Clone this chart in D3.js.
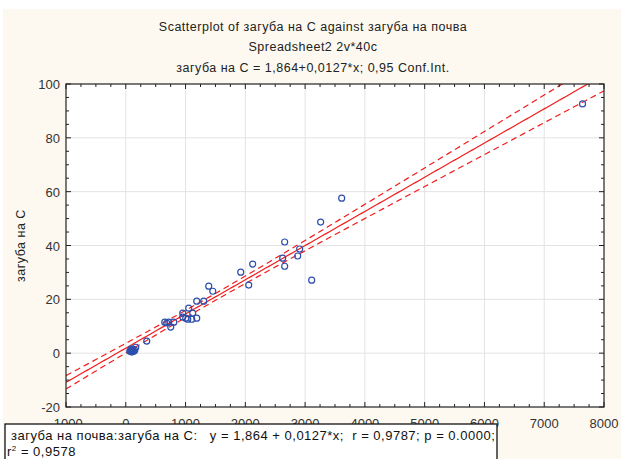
<!DOCTYPE html>
<html>
<head>
<meta charset="utf-8">
<script src="https://cdn.jsdelivr.net/npm/d3@7"></script>
<style>
  body { margin: 0; background: #fff; }
  svg { display: block; font-family: "Liberation Sans", Arial, sans-serif; }
  .tick-label { font-size: 13px; fill: #333; }
  .title { font-size: 12.5px; fill: #222; letter-spacing: 0.5px; }
  .note { font-size: 13px; fill: #111; white-space: pre; letter-spacing: 0.5px; }
</style>
</head>
<body>
<div id="chart"></div>
<script>
// загуба на почва (x) vs загуба на С (y), 40 cases
const lossSoil = [
  67, 84, 84, 100, 100, 117, 117, 134, 150, 167, 351,
  652, 686, 719, 752, 803,
  953, 953, 1003, 1037, 1053, 1104, 1120, 1187, 1187, 1304, 1388, 1455,
  1923, 2057, 2123, 2625, 2658, 2658, 2876, 2909, 3110, 3260, 3612, 7641
];
const lossC = [
  0.7, 0.7, 1.5, 1.1, 0.4, 1.5, 0.7, 0.7, 1.1, 2.2, 4.5,
  11.5, 11.2, 11.5, 9.7, 11.5,
  14.9, 13.4, 13.0, 12.6, 16.7, 12.6, 14.9, 13.0, 19.3, 19.3, 24.9, 23.0,
  30.1, 25.3, 33.1, 35.3, 41.3, 32.3, 36.1, 38.7, 27.1, 48.7, 57.6, 92.6
];

// fitted model as printed by the chart
const intercept = 1.864;
const slope = 0.0127;
const tCrit = 2.024; // t(0.975, 38)

const xTicks = [-1000, 0, 1000, 2000, 3000, 4000, 5000, 6000, 7000, 8000];
const yTicks = [-20, 0, 20, 40, 60, 80, 100];

const titleLines = [
  'Scatterplot of загуба на С against загуба на почва',
  'Spreadsheet2 2v*40c',
  'загуба на С = 1,864+0,0127*x; 0,95 Conf.Int.'
];
const yLabel = 'загуба на С';
const noteLine1 = 'загуба на почва:загуба на С:   y = 1,864 + 0,0127*x;  r = 0,9787; p = 0.0000;';
const noteLine2 = '= 0,9578';

const W = 621, H = 459;
const plot = { left: 66, top: 84, right: 604, bottom: 407 };

const svg = d3.select('#chart').append('svg').attr('width', W).attr('height', H);

// cream panel behind everything
svg.append('rect').attr('x', 3).attr('y', 9).attr('width', W - 3).attr('height', H - 9).attr('fill', '#fdf9f0');

const x = d3.scaleLinear().domain([-1000, 8000]).range([plot.left, plot.right]);
const y = d3.scaleLinear().domain([-20, 100]).range([plot.bottom, plot.top]);

svg.append('rect')
  .attr('x', plot.left).attr('y', plot.top)
  .attr('width', plot.right - plot.left).attr('height', plot.bottom - plot.top)
  .attr('fill', '#fff');

// grid at major ticks
svg.append('g').selectAll('line').data(xTicks.slice(1, -1)).join('line')
  .attr('x1', (d) => x(d)).attr('x2', (d) => x(d))
  .attr('y1', plot.top).attr('y2', plot.bottom)
  .attr('stroke', '#e3e3e3').attr('stroke-width', 1);
svg.append('g').selectAll('line').data(yTicks.slice(1, -1)).join('line')
  .attr('y1', (d) => y(d)).attr('y2', (d) => y(d))
  .attr('x1', plot.left).attr('x2', plot.right)
  .attr('stroke', '#e3e3e3').attr('stroke-width', 1);

// regression line and 95% band, band width from the residuals of the points
const n = lossSoil.length;
const xbar = d3.mean(lossSoil);
const sxx = d3.sum(lossSoil, (v) => (v - xbar) ** 2);
const sse = d3.sum(lossSoil, (v, i) => (lossC[i] - (intercept + slope * v)) ** 2);
const s = Math.sqrt(sse / (n - 2));
const fit = (v) => intercept + slope * v;
const half = (v) => tCrit * s * Math.sqrt(1 / n + (v - xbar) ** 2 / sxx);

const grid = d3.range(-1000, 8001, 50);

svg.append('clipPath').attr('id', 'clip').append('rect')
  .attr('x', plot.left).attr('y', plot.top)
  .attr('width', plot.right - plot.left).attr('height', plot.bottom - plot.top);

const lines = svg.append('g').attr('clip-path', 'url(#clip)');
const lineGen = (f) => d3.line().x((d) => x(d)).y((d) => y(f(d)))(grid);

lines.append('path').attr('d', lineGen(fit))
  .attr('fill', 'none').attr('stroke', '#f21c1c').attr('stroke-width', 1.2);
[(v) => fit(v) + half(v), (v) => fit(v) - half(v)].forEach((f) => {
  lines.append('path').attr('d', lineGen(f))
    .attr('fill', 'none').attr('stroke', '#f21c1c').attr('stroke-width', 1.2)
    .attr('stroke-dasharray', '6,4');
});

// points
svg.append('g').selectAll('circle').data(lossSoil).join('circle')
  .attr('cx', (d) => x(d)).attr('cy', (d, i) => y(lossC[i]))
  .attr('r', 3).attr('fill', 'none')
  .attr('stroke', '#2d4eac').attr('stroke-width', 1.2);

// frame with inward major and minor ticks on all four sides
const frame = svg.append('g').attr('stroke', '#222');
frame.append('rect')
  .attr('x', plot.left).attr('y', plot.top)
  .attr('width', plot.right - plot.left).attr('height', plot.bottom - plot.top)
  .attr('fill', 'none').attr('stroke-width', 1.2);

const xMinor = d3.range(-1000, 8001, 250);
const yMinor = d3.range(-20, 101, 5);
xMinor.forEach((v) => {
  const len = v % 1000 === 0 ? 5 : 3;
  frame.append('line').attr('x1', x(v)).attr('x2', x(v)).attr('y1', plot.bottom).attr('y2', plot.bottom - len);
  frame.append('line').attr('x1', x(v)).attr('x2', x(v)).attr('y1', plot.top).attr('y2', plot.top + len);
});
yMinor.forEach((v) => {
  const len = v % 20 === 0 ? 5 : 3;
  frame.append('line').attr('y1', y(v)).attr('y2', y(v)).attr('x1', plot.left).attr('x2', plot.left + len);
  frame.append('line').attr('y1', y(v)).attr('y2', y(v)).attr('x1', plot.right).attr('x2', plot.right - len);
});

// tick labels
svg.append('g').selectAll('text').data(yTicks).join('text')
  .attr('class', 'tick-label')
  .attr('x', plot.left - 6).attr('y', (d) => y(d) + 5)
  .attr('text-anchor', 'end').text((d) => d);
svg.append('g').selectAll('text').data(xTicks).join('text')
  .attr('class', 'tick-label')
  .attr('x', (d) => x(d)).attr('y', plot.bottom + 21)
  .attr('text-anchor', 'middle').text((d) => d);

// titles
titleLines.forEach((t, i) => {
  svg.append('text').attr('class', 'title')
    .attr('x', 313).attr('y', [31, 51, 72][i])
    .attr('text-anchor', 'middle').text(t);
});

svg.append('text').attr('class', 'title')
  .attr('transform', `translate(25,${(plot.top + plot.bottom) / 2}) rotate(-90)`)
  .attr('text-anchor', 'middle').text(yLabel);

// statistics box, drawn over the x tick labels as in the original
svg.append('rect').attr('x', 5).attr('y', 424).attr('width', 492).attr('height', 40)
  .attr('fill', '#fff').attr('stroke', '#111').attr('stroke-width', 1.3);
svg.append('text').attr('class', 'note').attr('x', 11).attr('y', 440).text(noteLine1);
const l2 = svg.append('text').attr('class', 'note').attr('x', 7).attr('y', 456);
l2.append('tspan').text('r');
l2.append('tspan').attr('dy', -5).attr('font-size', 8).text('2');
l2.append('tspan').attr('dy', 5).text(' ' + noteLine2);
</script>
</body>
</html>
